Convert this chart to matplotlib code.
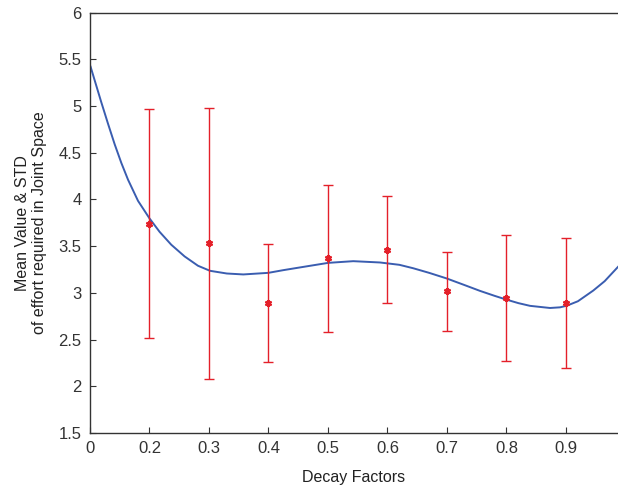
import numpy as np
import matplotlib.pyplot as plt

# decay factors and measured effort (mean, std)
decay = [0.2, 0.3, 0.4, 0.5, 0.6, 0.7, 0.8, 0.9]
mean_effort = [3.74, 3.53, 2.89, 3.37, 3.46, 3.015, 2.945, 2.89]
std_effort = [1.228, 1.45, 0.632, 0.785, 0.573, 0.426, 0.675, 0.694]

# fitted trend curve
curve_x = [0.101, 0.119, 0.1303, 0.1415, 0.1527, 0.164, 0.1807, 0.200, 0.217,
           0.2366, 0.259, 0.2815, 0.3017, 0.33, 0.3577, 0.3997, 0.425,
           0.4529, 0.48, 0.5005, 0.5425, 0.5874, 0.62, 0.6434, 0.67, 0.6995,
           0.73, 0.7555, 0.78, 0.7992, 0.82, 0.8395, 0.8731, 0.89, 0.9011,
           0.92, 0.9459, 0.965, 0.9874]
curve_y = [5.42, 5.04, 4.81, 4.59, 4.39, 4.21, 3.985, 3.797, 3.653,
           3.515, 3.39, 3.29, 3.236, 3.207, 3.197, 3.214, 3.243,
           3.272, 3.300, 3.321, 3.339, 3.325, 3.30, 3.263, 3.214, 3.154,
           3.082, 3.021, 2.968, 2.929, 2.890, 2.861, 2.838, 2.845, 2.862,
           2.91, 3.025, 3.125, 3.278]

xtick_pos = [0.1, 0.2, 0.3, 0.4, 0.5, 0.6, 0.7, 0.8, 0.9]
xtick_labels = ['0', '0.2', '0.3', '0.4', '0.5', '0.6', '0.7', '0.8', '0.9']
ytick_pos = [1.5, 2, 2.5, 3, 3.5, 4, 4.5, 5, 5.5, 6]
ytick_labels = ['1.5', '2', '2.5', '3', '3.5', '4', '4.5', '5', '5.5', '6']

plt.rcParams['font.family'] = ['Liberation Sans', 'DejaVu Sans']

fig = plt.figure(figsize=(6.18, 4.91), dpi=100)
ax = fig.add_axes([0.1456, 0.1181, 0.8544, 0.8564])

ax.plot(curve_x, curve_y, color='#3a5db0', linewidth=1.4, zorder=2,
        solid_joinstyle='round')
ax.errorbar(decay, mean_effort, yerr=std_effort, fmt='none',
            ecolor='#e4202a', elinewidth=1.0, capsize=3.5, capthick=1.0,
            zorder=3)
ax.plot(decay, mean_effort, linestyle='none', marker=(6, 2, 0),
        markersize=5, markeredgewidth=1.6, color='#e4202a', zorder=4)

ax.set_xlim(0.1, 0.9874)
ax.set_ylim(1.5, 6)
ax.set_xticks(xtick_pos)
ax.set_xticklabels(xtick_labels)
ax.set_yticks(ytick_pos)
ax.set_yticklabels(ytick_labels)

ax.spines['right'].set_visible(False)
for s in ['left', 'bottom', 'top']:
    ax.spines[s].set_color('#333333')
    ax.spines[s].set_linewidth(1.0)
ax.tick_params(direction='in', length=4, width=0.8, colors='#333333',
               labelsize=12, pad=6)

ax.set_xlabel('Decay Factors', fontsize=11.5, color='#222222', labelpad=10)
ax.set_ylabel('Mean Value & STD\nof effort required in Joint Space',
              fontsize=11.5, color='#222222', labelpad=8)

fig.savefig('out.png', dpi=100)
